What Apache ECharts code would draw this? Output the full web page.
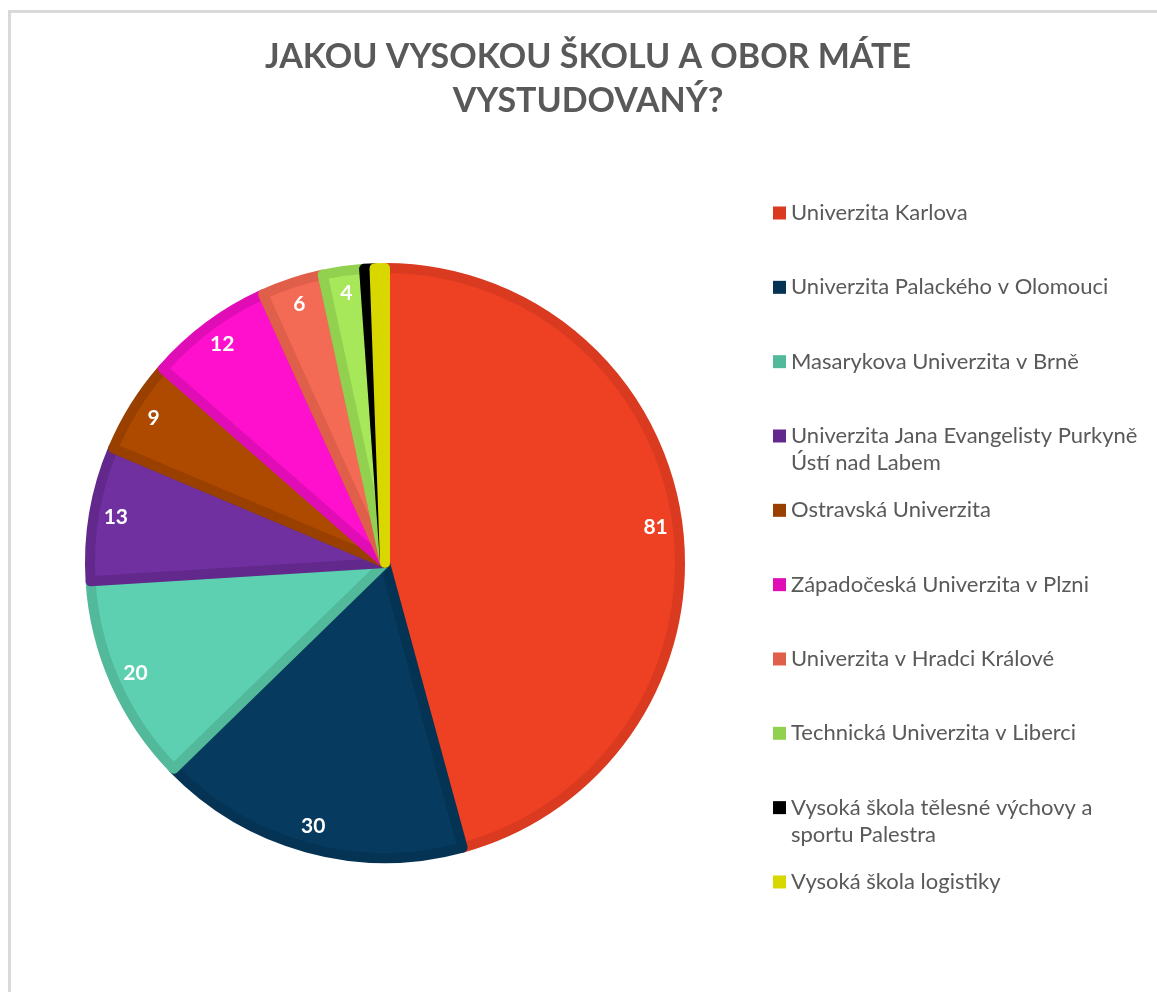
<!DOCTYPE html>
<html>
<head>
<meta charset="utf-8">
<script src="https://cdn.jsdelivr.net/npm/echarts@6/dist/echarts.min.js"></script>
<style>
html,body{margin:0;padding:0;background:#fff;}
#chart{width:1157px;height:992px;}
</style>
</head>
<body>
<div id="chart"></div>
<script>
const titleText = 'JAKOU VYSOKOU ŠKOLU A OBOR MÁTE\nVYSTUDOVANÝ?';
const categories = [
  'Univerzita Karlova',
  'Univerzita Palackého v Olomouci',
  'Masarykova Univerzita v Brně',
  'Univerzita Jana Evangelisty Purkyně Ústí nad Labem',
  'Ostravská Univerzita',
  'Západočeská Univerzita v Plzni',
  'Univerzita v Hradci Králové',
  'Technická Univerzita v Liberci',
  'Vysoká škola tělesné výchovy a sportu Palestra',
  'Vysoká škola logistiky'
];
const legendLabels = [
  'Univerzita Karlova',
  'Univerzita Palackého v Olomouci',
  'Masarykova Univerzita v Brně',
  'Univerzita Jana Evangelisty Purkyně\nÚstí nad Labem',
  'Ostravská Univerzita',
  'Západočeská Univerzita v Plzni',
  'Univerzita v Hradci Králové',
  'Technická Univerzita v Liberci',
  'Vysoká škola tělesné výchovy a\nsportu Palestra',
  'Vysoká škola logistiky'
];
const values = [81, 30, 20, 13, 9, 12, 6, 4, 1, 1];
const fillColors = ['#EE4123', '#063A5F', '#5CD0B0', '#7030A0', '#AE4A00', '#FF10CC', '#F46B55', '#A6E85A', '#000000', '#E8E800'];
const edgeColors = ['#D93A20', '#053353', '#52B99B', '#62288C', '#993F00', '#E00CB6', '#DF5F4A', '#92D050', '#000000', '#D8D800'];

const chart = echarts.init(document.getElementById('chart'), null, {renderer: 'canvas'});

const FONT = 'Lato';
const center = [385, 563];

const pieData = categories.map((n, i) => ({
  name: n,
  value: values[i],
  itemStyle: {color: fillColors[i], borderColor: edgeColors[i], borderWidth: 10}
}));
const labelData = categories.map((n, i) => ({
  name: n,
  value: values[i],
  label: {show: values[i] > 1}
}));

const legends = categories.map((n, i) => {
  const c = 213 + i * 74.33;
  const twoLine = legendLabels[i].indexOf('\n') >= 0;
  const h = twoLine ? 81 : 27;
  return {
    left: 768,
    top: c - h / 2 - 5,
    orient: 'vertical',
    itemWidth: 13,
    itemHeight: 13,
    icon: 'rect',
    selectedMode: false,
    itemStyle: {borderWidth: 0},
    formatter: () => (twoLine ? '\n' : '') + legendLabels[i],
    textStyle: {color: '#595959', fontFamily: FONT, fontSize: 22, lineHeight: 27},
    data: [{name: n, itemStyle: {color: edgeColors[i], borderWidth: 0}}]
  };
});

chart.setOption({
  animation: false,
  backgroundColor: '#ffffff',
  title: {
    text: titleText,
    left: 583,
    top: 30,
    textAlign: 'center',
    textStyle: {color: '#595959', fontFamily: FONT, fontWeight: 'bold', fontSize: 34, lineHeight: 44}
  },
  graphic: [{
    type: 'rect',
    shape: {x: 9.5, y: 11.5, width: 1300, height: 1200},
    style: {fill: 'none', stroke: '#D9D9D9', lineWidth: 3},
    silent: true, z: -10
  }],
  legend: legends,
  series: [
    {
      type: 'pie',
      center: center,
      radius: 295,
      startAngle: 90,
      clockwise: true,
      avoidLabelOverlap: false,
      label: {show: false},
      labelLine: {show: false},
      emphasis: {disabled: true},
      data: pieData
    },
    {
      type: 'pie',
      center: center,
      radius: [240, 300],
      startAngle: 90,
      clockwise: true,
      silent: true,
      avoidLabelOverlap: false,
      itemStyle: {color: 'rgba(0,0,0,0)', borderWidth: 0},
      label: {show: true, position: 'inside', color: '#FFFFFF', fontFamily: FONT, fontWeight: 'bold', fontSize: 21, formatter: '{c}'},
      labelLine: {show: false},
      emphasis: {disabled: true},
      data: labelData
    }
  ]
});
</script>
</body>
</html>
